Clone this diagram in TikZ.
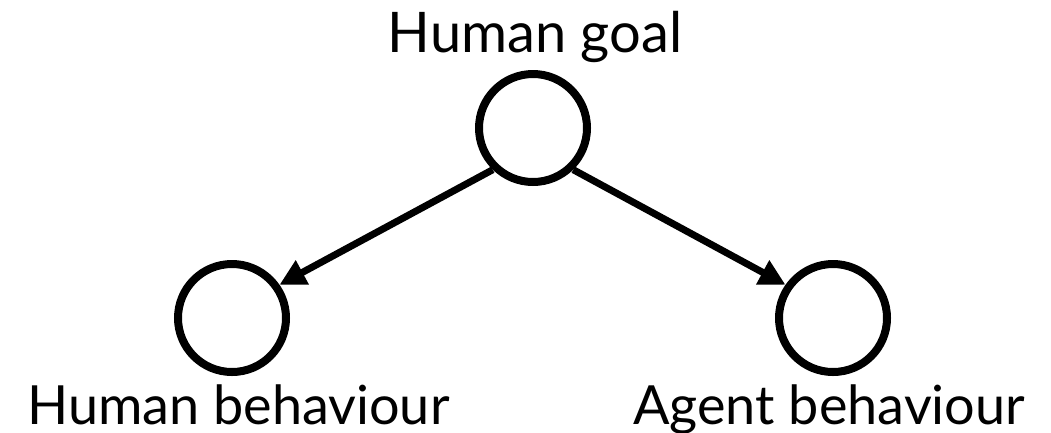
\documentclass[tikz,border=0pt]{standalone}
\usepackage{fontspec}
\setmainfont{Lato}
\usetikzlibrary{arrows.meta,shadows}
\begin{document}
\begin{tikzpicture}[x=1pt,y=-1pt,
  var/.style={circle,draw=black,line width=8pt,fill=white,minimum size=108pt,inner sep=0pt,
    drop shadow={opacity=0.18,shadow xshift=2pt,shadow yshift=-2pt}},
  edge/.style={line width=7pt,-{Triangle[length=26pt,width=26pt]}},
  lbl/.style={inner sep=0pt,font=\fontsize{56}{62}\selectfont},
  lowlbl/.style={lbl,anchor=base west,font=\fontsize{54}{60}\selectfont}]
\useasboundingbox (0,0) rectangle (1051,432);
\node[var] (goal) at (533,128) {};
\node[var] (hb) at (232,318) {};
\node[var] (ab) at (833,318) {};
\node[lbl,anchor=base] (tgoal) at (535,52) {Human goal};
\node[lowlbl] (thb) at (27,424) {Human behaviour};
\node[lowlbl] (tab) at (633,424) {Agent behaviour};
\draw[edge] (goal.-134) -- (hb.35);
\draw[edge] (goal.-46) -- (ab.145);
\end{tikzpicture}
\end{document}
